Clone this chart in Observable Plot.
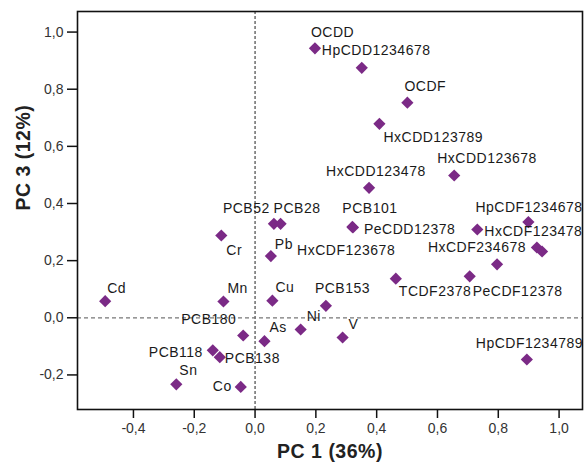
<!DOCTYPE html>
<html>
<head>
<meta charset="utf-8">
<script src="https://cdn.jsdelivr.net/npm/d3@7"></script>
<script src="https://cdn.jsdelivr.net/npm/@observablehq/plot@0.6"></script>
<style>
  html, body { margin: 0; padding: 0; background: #fff; }
  g[aria-label="text"] text { letter-spacing: 0.5px; }
</style>
</head>
<body>
<div id="chart"></div>
<script>
// ---- data (loadings) ----
const names = ["OCDD","HpCDD1234678","OCDF","HxCDD123789","HxCDD123678","HxCDD123478",
  "PCB52","PCB28","PCB101","PeCDD12378","HpCDF1234678","HxCDF123478","Cr","Pb",
  "HxCDF123678","HxCDF234678","PeCDF23478","PeCDF12378","TCDF2378","Cd","Mn","Cu",
  "PCB153","PCB180","Ni","As","V","HpCDF1234789","PCB118","PCB138","Sn","Co"];
const pc1 = [0.197,0.351,0.501,0.409,0.655,0.375,
  0.062,0.084,0.320,0.322,0.899,0.731,-0.111,0.052,
  0.796,0.927,0.944,0.706,0.463,-0.493,-0.104,0.057,
  0.233,-0.039,0.150,0.031,0.288,0.894,-0.139,-0.116,-0.259,-0.047];
const pc3 = [0.943,0.875,0.753,0.679,0.498,0.455,
  0.329,0.329,0.318,0.316,0.335,0.309,0.288,0.216,
  0.187,0.246,0.232,0.145,0.137,0.058,0.057,0.060,
  0.042,-0.062,-0.041,-0.082,-0.069,-0.146,-0.114,-0.138,-0.233,-0.242];
const xTicks = [-0.4,-0.2,0,0.2,0.4,0.6,0.8,1.0];
const yTicks = [-0.2,0,0.2,0.4,0.6,0.8,1.0];
const xTitle = "PC 1 (36%)";
const yTitle = "PC 3 (12%)";

// ---- label placement (pixel offsets from each point; layout only) ----
const labelOffset = {
  "OCDD":[-4,-16], "HpCDD1234678":[-40,-17], "OCDF":[-3,-16], "HxCDD123789":[4,14],
  "HxCDD123678":[-17,-17], "HxCDD123478":[-43,-16], "PCB52":[-51,-15], "PCB28":[-7,-15],
  "PCB101":[-10,-18], "PeCDD12378":[11,2], "HpCDF1234678":[-53,-15], "HxCDF123478":[7,2],
  "Cr":[5,15], "Pb":[4,-12], "HxCDF123678":[-200,-14], "HxCDF234678":[-109,0],
  "PeCDF12378":[3,15], "TCDF2378":[3,13], "Cd":[2,-13], "Mn":[4,-13], "Cu":[3,-13],
  "PCB153":[-11,-17], "PCB180":[-62,-16], "Ni":[6,-13], "As":[5,-14], "V":[6,-13],
  "HpCDF1234789":[-51,-16], "PCB118":[-64,2], "PCB138":[5,1], "Sn":[3,-14], "Co":[-28,0]
};

const points = names.map((n, i) => ({name: n, pc1: pc1[i], pc3: pc3[i]}));
const fmt = d => d.toFixed(1).replace(".", ",");

const labelMarks = points
  .filter(p => labelOffset[p.name])
  .map(p => Plot.text([p], {
    x: "pc1", y: "pc3", text: "name",
    textAnchor: "start",
    dx: labelOffset[p.name][0], dy: labelOffset[p.name][1],
    fontSize: 14, fill: "#1a1a1a"
  }));

const chart = Plot.plot({
  width: 585,
  height: 471,
  marginLeft: 77,
  marginRight: 3,
  marginTop: 11,
  marginBottom: 62,
  style: {fontFamily: "'Liberation Sans', Arial, sans-serif", fontSize: "14px", background: "#fff", color: "#222"},
  x: {domain: [-0.584, 1.077]},
  y: {domain: [-0.321, 1.072]},
  marks: [
    Plot.ruleX([0], {stroke: "#222", strokeDasharray: "3,2", strokeWidth: 1}),
    Plot.ruleY([0], {stroke: "#777", strokeDasharray: "4,3", strokeWidth: 1.2}),
    Plot.axisX(xTicks, {tickSize: 9, tickPadding: 5, tickFormat: fmt, label: null, fontSize: 14, stroke: "#111", fill: "#333", strokeWidth: 1.5}),
    Plot.axisY(yTicks, {tickSize: 10, tickPadding: 4, tickFormat: fmt, label: null, fontSize: 14, stroke: "#111", fill: "#333", strokeWidth: 1.5}),
    Plot.frame({stroke: "#111", strokeWidth: 1.6}),
    Plot.dot(points, {x: "pc1", y: "pc3", symbol: "diamond2", r: 5.5, fill: "#7b2a86", stroke: "none"}),
    ...labelMarks,
    Plot.text([xTitle], {text: d => d, frameAnchor: "bottom", dy: 48, fontWeight: "bold", fontSize: 19.5, fill: "#222"}),
    Plot.text([yTitle], {text: d => d, frameAnchor: "left", dx: -54, rotate: -90, fontWeight: "bold", fontSize: 19.5, fill: "#222"})
  ]
});
document.getElementById("chart").appendChild(chart);
</script>
</body>
</html>
